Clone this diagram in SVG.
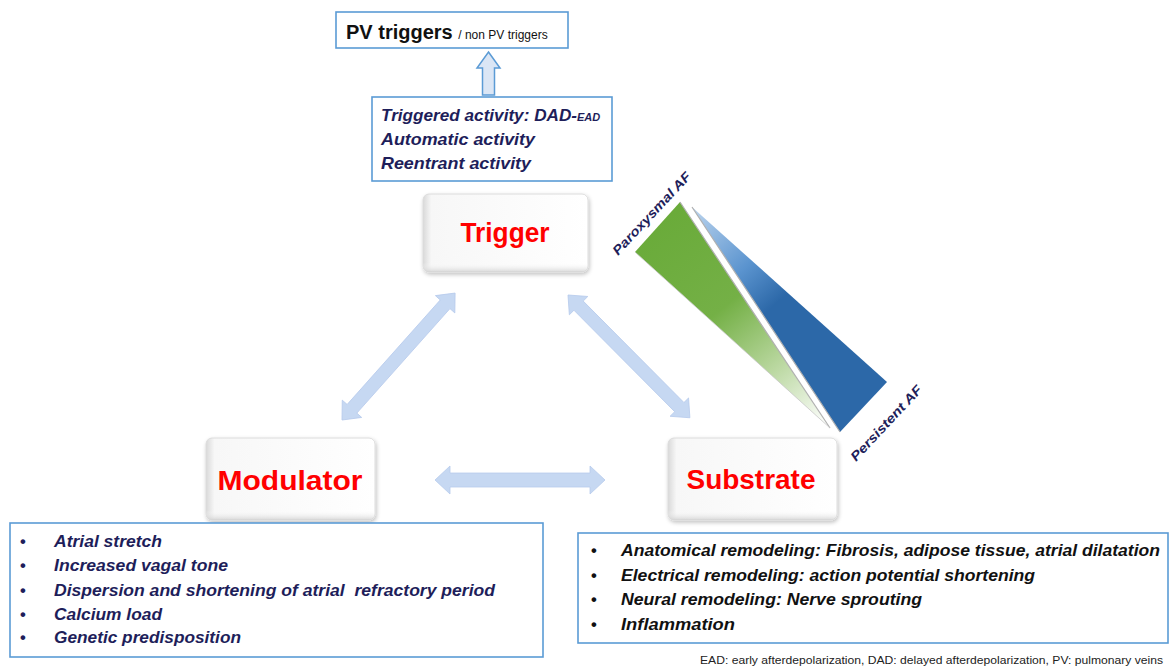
<svg xmlns="http://www.w3.org/2000/svg" width="1171" height="668" viewBox="0 0 1171 668">
<defs>
<style>
.t{font-family:"Liberation Sans","Open Sans",Arial,sans-serif;}
.nav{fill:#1e1e5a;font-weight:bold;font-style:italic;}
.box{fill:#ffffff;stroke:#5b9bd5;stroke-width:1.6;}
.node{fill:url(#nodeH);stroke:#dcdcdc;stroke-width:1;filter:url(#sh);}
.nlab{fill:#ff0000;font-weight:bold;font-size:27px;text-anchor:middle;}
.arr{fill:#c6d8f2;stroke:#b7cbec;stroke-width:0.8;}
.li{font-size:16.5px;}
</style>
<linearGradient id="nodeH" x1="0" y1="0" x2="1" y2="0">
<stop offset="0" stop-color="#d9d9d9"/>
<stop offset="0.05" stop-color="#f7f7f7"/>
<stop offset="1" stop-color="#ffffff"/>
</linearGradient>
<linearGradient id="nodeV" x1="0" y1="0" x2="0" y2="1">
<stop offset="0" stop-color="#ffffff" stop-opacity="0"/>
<stop offset="0.88" stop-color="#ffffff" stop-opacity="0"/>
<stop offset="1" stop-color="#cfcfcf" stop-opacity="0.8"/>
</linearGradient>
<filter id="sh" x="-10%" y="-10%" width="120%" height="130%">
<feGaussianBlur in="SourceAlpha" stdDeviation="2"/>
<feOffset dx="1" dy="2" result="b"/>
<feComponentTransfer><feFuncA type="linear" slope="0.25"/></feComponentTransfer>
<feMerge><feMergeNode/><feMergeNode in="SourceGraphic"/></feMerge>
</filter>
<linearGradient id="gG" gradientUnits="userSpaceOnUse" x1="665" y1="220" x2="828" y2="425">
<stop offset="0" stop-color="#6aab3a"/>
<stop offset="0.4" stop-color="#74b046"/>
<stop offset="0.7" stop-color="#b9d79f"/>
<stop offset="1" stop-color="#ffffff"/>
</linearGradient>
<linearGradient id="gB" gradientUnits="userSpaceOnUse" x1="700" y1="210" x2="780" y2="300">
<stop offset="0" stop-color="#b4cfeb"/>
<stop offset="0.6" stop-color="#5b94cf"/>
<stop offset="1" stop-color="#2c68a8"/>
</linearGradient>
</defs>
<rect width="1171" height="668" fill="#ffffff"/>

<g id="connectors">
<polygon class="arr" points="0,0 15,-14 15,-7 155,-7 155,-14 170,0 155,14 155,7 15,7 15,14" transform="translate(435,480)"/>
<polygon class="arr" points="0,0 15,-13 15,-6.5 155,-6.5 155,-13 170,0 155,13 155,6.5 15,6.5 15,13" transform="translate(342,420) rotate(-48.3)"/>
<polygon class="arr" points="0,0 15,-13 15,-6.5 158,-6.5 158,-13 173,0 158,13 158,6.5 15,6.5 15,13" transform="translate(568,295) rotate(45.2)"/>
<polygon points="488.5,52 500,68 494.5,68 494.5,95 482.5,95 482.5,68 477,68" fill="#dbe6f5" stroke="#5b9bd5" stroke-width="1.5"/>
</g>

<g id="pv-triggers">
<rect class="box" x="336" y="12" width="232" height="36"/>
<text class="t" x="346" y="39" font-size="20" font-weight="bold" fill="#111111">PV triggers <tspan font-size="12" font-weight="normal">/ non PV triggers</tspan></text>
</g>

<g id="trigger-mechanisms">
<rect class="box" x="372" y="97" width="240" height="84"/>
<text class="t nav" x="381" y="121" font-size="17"><tspan textLength="196" lengthAdjust="spacingAndGlyphs">Triggered activity: DAD-</tspan><tspan font-size="11">EAD</tspan></text>
<text class="t nav" x="381" y="145" font-size="17" textLength="154" lengthAdjust="spacingAndGlyphs">Automatic activity</text>
<text class="t nav" x="381" y="169" font-size="17" textLength="150" lengthAdjust="spacingAndGlyphs">Reentrant activity</text>
</g>

<g id="trigger">
<rect class="node" x="423" y="194" width="165" height="78" rx="6"/>
<rect x="423" y="194" width="165" height="78" rx="6" fill="url(#nodeV)"/>
<text class="t nlab" x="505" y="242" textLength="89" lengthAdjust="spacingAndGlyphs">Trigger</text>
</g>

<g id="modulator">
<rect class="node" x="206" y="438" width="169" height="82" rx="6"/>
<rect x="206" y="438" width="169" height="82" rx="6" fill="url(#nodeV)"/>
<text class="t nlab" x="290" y="490" textLength="145" lengthAdjust="spacingAndGlyphs">Modulator</text>
</g>

<g id="substrate">
<rect class="node" x="668" y="438" width="169" height="82" rx="6"/>
<rect x="668" y="438" width="169" height="82" rx="6" fill="url(#nodeV)"/>
<text class="t nlab" x="751" y="489" textLength="129" lengthAdjust="spacingAndGlyphs">Substrate</text>
</g>

<g id="af-progression">
<polygon points="680,202 635,252 830,428" fill="url(#gG)"/>
<line x1="680" y1="202" x2="830" y2="428" stroke="#b0b0b0" stroke-width="1.2"/>
<line x1="635" y1="252" x2="830" y2="428" stroke="#c8c8c8" stroke-width="0.8"/>
<polygon points="692,207 887,382 840,432" fill="url(#gB)"/>
<line x1="692" y1="207" x2="840" y2="432" stroke="#b0b0b0" stroke-width="1.2"/>
<text class="t nav" font-size="13" transform="translate(618,256) rotate(-47)" textLength="108" lengthAdjust="spacingAndGlyphs">Paroxysmal AF</text>
<text class="t nav" font-size="13" transform="translate(856,462) rotate(-47)" textLength="98" lengthAdjust="spacingAndGlyphs">Persistent AF</text>
</g>

<g id="modulator-list">
<rect class="box" x="10" y="523" width="533" height="134"/>
<g class="t nav li">
<text x="20" y="547" font-style="normal">•</text>
<text x="20" y="571" font-style="normal">•</text>
<text x="20" y="596" font-style="normal">•</text>
<text x="20" y="620" font-style="normal">•</text>
<text x="20" y="643" font-style="normal">•</text>
<text x="54" y="547" textLength="108" lengthAdjust="spacingAndGlyphs">Atrial stretch</text>
<text x="54" y="571" textLength="174" lengthAdjust="spacingAndGlyphs">Increased vagal tone</text>
<text x="54" y="596" textLength="441" lengthAdjust="spacingAndGlyphs" xml:space="preserve">Dispersion and shortening of atrial  refractory period</text>
<text x="54" y="620" textLength="108" lengthAdjust="spacingAndGlyphs">Calcium load</text>
<text x="54" y="643" textLength="187" lengthAdjust="spacingAndGlyphs">Genetic predisposition</text>
</g>
</g>

<g id="substrate-list">
<rect class="box" x="578" y="533" width="590" height="110"/>
<g class="t nav li">
<text x="591" y="556" font-style="normal" fill="#111">•</text>
<text x="591" y="581" font-style="normal" fill="#111">•</text>
<text x="591" y="605" font-style="normal" fill="#111">•</text>
<text x="591" y="630" font-style="normal" fill="#111">•</text>
<text x="621" y="556" fill="#111" textLength="539" lengthAdjust="spacingAndGlyphs">Anatomical remodeling: Fibrosis, adipose tissue, atrial dilatation</text>
<text x="621" y="581" fill="#111" textLength="414" lengthAdjust="spacingAndGlyphs">Electrical remodeling: action potential shortening</text>
<text x="621" y="605" fill="#111" textLength="301" lengthAdjust="spacingAndGlyphs">Neural remodeling: Nerve sprouting</text>
<text x="621" y="630" fill="#111" textLength="114" lengthAdjust="spacingAndGlyphs">Inflammation</text>
</g>
</g>

<text class="t" x="700" y="664" font-size="10.5" fill="#222" textLength="463" lengthAdjust="spacingAndGlyphs">EAD: early afterdepolarization, DAD: delayed afterdepolarization, PV: pulmonary veins</text>
</svg>
